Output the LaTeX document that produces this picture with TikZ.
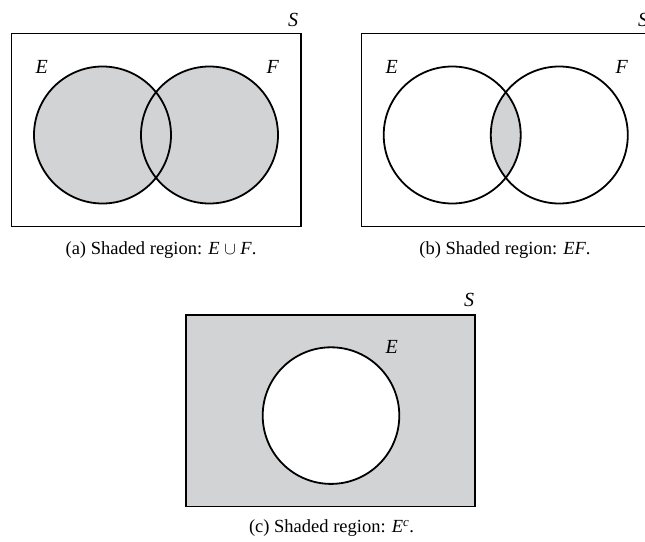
\documentclass[tikz,border=0pt]{standalone}
\usepackage{fontspec}
\setmainfont{Liberation Serif}
\definecolor{venngray}{RGB}{210,211,213}
\begin{document}
\begin{tikzpicture}[x=1pt,y=-1pt,
  frame/.style={draw=black, line width=1.1pt},
  ring/.style={draw=black, line width=1.8pt},
  setlbl/.style={font=\fontsize{20}{20}\selectfont\itshape, inner sep=0pt},
  captxt/.style={font=\fontsize{18.5}{18.5}\selectfont, inner sep=0pt}]
\useasboundingbox (0,0) rectangle (645,541);
\clip (0,0) rectangle (645,541);
% ---------- (a) union ----------
\fill[venngray] (102.5,135) circle (68.5) (209.5,135) circle (68.5);
\draw[frame] (11.7,33.3) rectangle (301,226.7);
\draw[ring] (102.5,135) circle (68.5) (209.5,135) circle (68.5);
\node[setlbl] (Sa) at (293,20) {S};
\node[setlbl] (Ea) at (41.7,66.7) {E};
\node[setlbl] (Fa) at (272.7,66.7) {F};
\node[captxt] (capa) at (161,250) {(a) Shaded region: \textit{E} $\cup$ \textit{F}.};
% ---------- (b) intersection ----------
\begin{scope}
  \clip (452.2,135) circle (68.5);
  \fill[venngray] (559.3,135) circle (68.5);
\end{scope}
\draw[frame] (361.7,33.3) rectangle (651,226.7);
\draw[ring] (452.2,135) circle (68.5) (559.3,135) circle (68.5);
\node[setlbl] (Sb) at (643,20) {S};
\node[setlbl] (Eb) at (391.7,66.7) {E};
\node[setlbl] (Fb) at (621.7,66.7) {F};
\node[captxt] (capb) at (505,250) {(b) Shaded region: \textit{EF}.};
% ---------- (c) complement ----------
\fill[venngray] (186,315) rectangle (475,506.7);
\fill[white] (331,415.6) circle (68.3);
\draw[frame] (186,315) rectangle (475,506.7);
\draw[ring] (331,415.6) circle (68.3);
\node[setlbl] (Sc) at (469,300) {S};
\node[setlbl] (Ec) at (391.7,347) {E};
\node[captxt] (capc) at (331.5,528) {(c) Shaded region: \textit{E}\textsuperscript{\textit{c}}.};
\end{tikzpicture}
\end{document}
